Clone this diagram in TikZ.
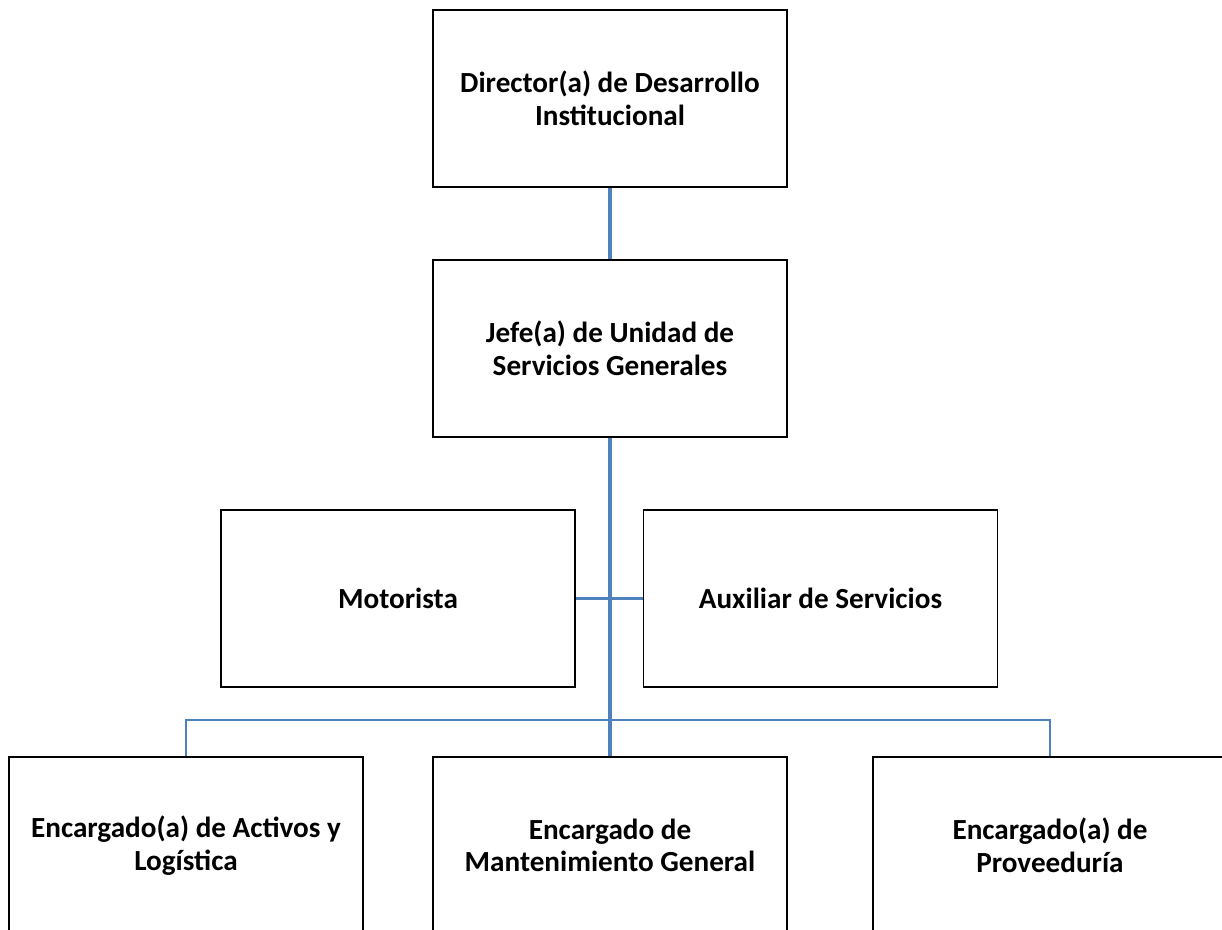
\documentclass[tikz,border=0pt]{standalone}
\usepackage{fontspec}
\setmainfont{Carlito}
\usepackage{tikz}
\usetikzlibrary{positioning}

\definecolor{linkblue}{HTML}{4F81BD}

\begin{document}
\begin{tikzpicture}[
  node distance=5cm,
  every node/.style={draw, line width=1.1pt, rectangle, align=center, minimum width=7.08cm, minimum height=3.54cm, font=\fontsize{16.6}{18.6}\selectfont\bfseries},
  trunk/.style={draw=linkblue, line width=2.2pt},
  branch/.style={draw=linkblue, line width=1.3pt}
]
\useasboundingbox (-12.2,1.97) rectangle (12.24,-16.61);
\clip (-12.2,1.97) rectangle (12.24,-16.61);

\node (director) at (0,0) {Director(a) de Desarrollo\\Institucional};
\node (jefe) [below of=director] {Jefe(a) de Unidad de\\Servicios Generales};
\node (motorista) [below of=jefe, xshift=-4.24cm] {Motorista};
\node (auxiliar) [below of=jefe, xshift=4.21cm] {Auxiliar de Servicios};
\node (mant) [below of=jefe, node distance=9.94cm] {Encargado de\\Mantenimiento General};
\node (activos) [below of=jefe, node distance=9.94cm, xshift=-8.48cm] {Encargado(a) de Activos y\\Logística};
\node (prov) [below of=jefe, node distance=9.94cm, xshift=8.8cm] {Encargado(a) de\\Proveeduría};

\draw[branch] (motorista.east) -- (auxiliar.west);
\draw[branch] (activos.north) -- ++(0,0.72) -| (prov.north);
\draw[trunk] (director.south) -- (jefe.north);
\draw[trunk] (jefe.south) -- (mant.north);
\end{tikzpicture}
\end{document}
